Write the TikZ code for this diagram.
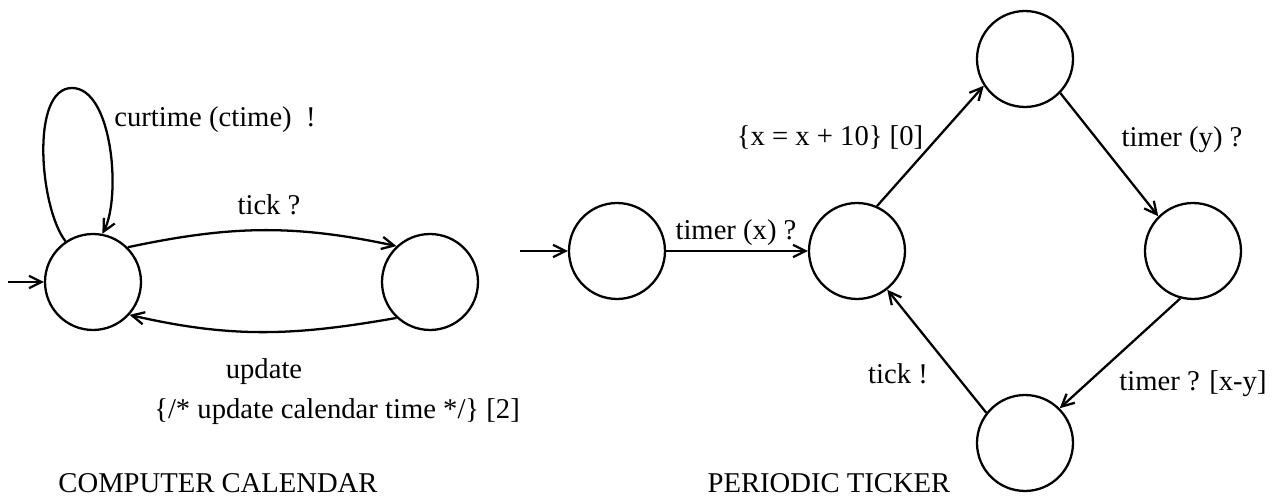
\documentclass[tikz,border=0pt]{standalone}
\usepackage{fontspec}
\setmainfont{Liberation Serif}
\usetikzlibrary{arrows.meta,positioning}
\tikzset{
  stnode/.style = {circle, draw=black, line width=1.3pt, minimum size=1.92cm,
                   inner sep=0pt},
  lbl/.style    = {inner sep=0pt, font=\fontsize{16.3}{19}\selectfont},
  arr/.style    = {-{Straight Barb[length=7pt,width=7pt,line width=1.3pt]},
                   line width=1.3pt, draw=black},
}
\begin{document}
\begin{tikzpicture}[x=0.02cm, y=0.02cm]
\useasboundingbox (0,0) rectangle (1276,497);

%% ── Computer calendar ─────────────────────────────────────
\node[stnode] (cal0) at (93,215)  {};
\node[stnode] (cal1) at (430,215) {};
\coordinate (cin) at (8,215);
\coordinate (looptop) at (72,409);

\node[lbl] (curtime) at (215,377) {curtime (ctime)\ \ !};
\node[lbl] (tickq)   at (269,292) {tick ?};
\node[lbl] (upd)     at (264,125) {update};
\node[lbl] (updact)  at (337,85)  {\{/* update calendar time */\} [2]};
\node[lbl] (caltitle) at (218,14) {COMPUTER CALENDAR};

\draw[arr] (cal0.124) to[out=128, in=180, looseness=0.7] (looptop)
                      to[out=0, in=62, looseness=0.7] (cal0.79);
\draw[arr] (cin) -- (cal0.west);
\draw[arr] (cal0.45) to[out=12, in=168] (cal1.133);
\draw[arr] (cal1.227) to[out=190, in=-13] (cal0.-42);

%% ── Periodic ticker ───────────────────────────────────────
\node[stnode] (tk0) at (617,246)  {};
\node[stnode] (tk1) at (857,246)  {};
\node[stnode] (tk2) at (1025,438) {};
\node[stnode] (tk3) at (1193,246) {};
\node[stnode] (tk4) at (1025,54)  {};
\coordinate (tin) at (520,246);

\node[lbl] (timx)   at (736,264)  {timer (x) ?};
\node[lbl] (incx)   at (830,360)  {\{x = x + 10\} [0]};
\node[lbl] (timy)   at (1182,357) {timer (y) ?};
\node[lbl] (timxy)  at (1193,113) {timer ? [x-y]};
\node[lbl] (ticke)  at (898,123)  {tick !};
\node[lbl] (tktitle) at (829,14)  {PERIODIC TICKER};

\draw[arr] (tin) -- (tk0.west);
\draw[arr] (tk0) -- (tk1);
\draw[arr] (tk1.66)  -- (tk2.213);
\draw[arr] (tk2.-44) -- (tk3.135);
\draw[arr] (tk3.255) -- (tk4.45);
\draw[arr] (tk4.142) -- (tk1.-52);

\end{tikzpicture}
\end{document}
